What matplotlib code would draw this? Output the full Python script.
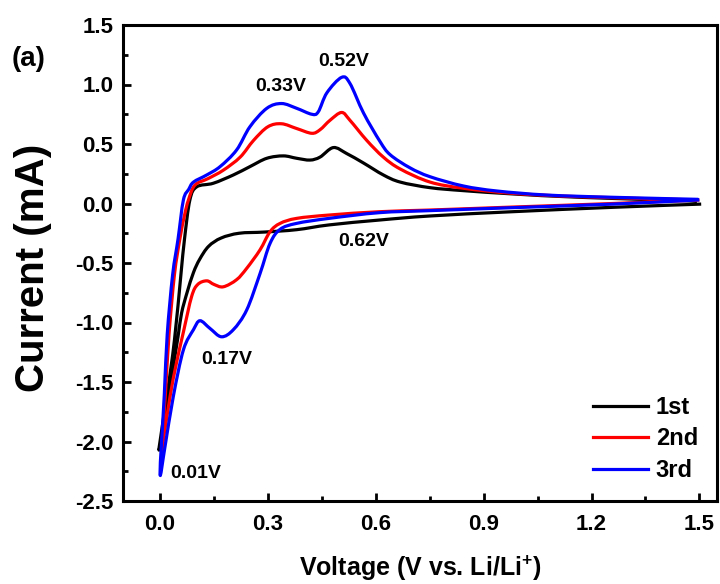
import matplotlib
matplotlib.use("Agg")
import matplotlib.pyplot as plt
from matplotlib.ticker import MultipleLocator
from matplotlib.path import Path
from matplotlib.patches import PathPatch
from matplotlib.lines import Line2D
import numpy as np

plt.rcParams['font.family'] = ['Liberation Sans', 'DejaVu Sans']
plt.rcParams['font.weight'] = 'bold'
plt.rcParams['mathtext.fontset'] = 'custom'
plt.rcParams['mathtext.rm'] = 'Liberation Sans:bold'
plt.rcParams['mathtext.bf'] = 'Liberation Sans:bold'
plt.rcParams['mathtext.default'] = 'bf'

# ---- data: cycle 1 (black) ----
c1_cat_v = [1.505, 1.26, 0.98, 0.75, 0.61, 0.47, 0.38, 0.29, 0.22, 0.17, 0.135, 0.11, 0.093, 0.075, 0.06, 0.05, 0.03, 0.01, -0.003]
c1_cat_i = [-0.005, -0.032, -0.069, -0.105, -0.139, -0.18, -0.22, -0.24, -0.25, -0.29, -0.36, -0.47, -0.58, -0.75, -0.92, -1.12, -1.5, -1.9, -2.06]
c1_an_v = [-0.003, 0.02, 0.04, 0.058, 0.068, 0.083, 0.102, 0.148, 0.204, 0.25, 0.297, 0.343, 0.38, 0.417, 0.445, 0.482, 0.519, 0.566, 0.621, 0.668, 0.751, 0.844, 0.983, 1.168, 1.493]
c1_an_i = [-2.06, -1.6, -1.15, -0.6, -0.3, 0.03, 0.14, 0.17, 0.24, 0.31, 0.38, 0.40, 0.38, 0.365, 0.39, 0.47, 0.42, 0.34, 0.24, 0.18, 0.133, 0.108, 0.08, 0.052, 0.02]

# ---- cycle 2 (red) ----
c2_cat_v = [1.50, 1.26, 0.98, 0.75, 0.61, 0.47, 0.38, 0.334, 0.306, 0.278, 0.241, 0.213, 0.176, 0.15, 0.13, 0.105, 0.088, 0.065, 0.045, 0.028, 0.009, 0.005]
c2_cat_i = [0.03, 0.0, -0.03, -0.055, -0.069, -0.097, -0.125, -0.167, -0.237, -0.39, -0.545, -0.64, -0.70, -0.68, -0.65, -0.68, -0.78, -1.08, -1.35, -1.62, -1.99, -2.05]
c2_an_v = [0.005, 0.015, 0.025, 0.04, 0.055, 0.068, 0.079, 0.097, 0.134, 0.176, 0.223, 0.26, 0.30, 0.338, 0.38, 0.422, 0.445, 0.473, 0.505, 0.528, 0.575, 0.621, 0.668, 0.751, 0.844, 0.983, 1.168, 1.493]
c2_an_i = [-2.05, -1.6, -1.1, -0.6, -0.3, -0.1, 0.03, 0.155, 0.21, 0.28, 0.39, 0.53, 0.645, 0.67, 0.63, 0.59, 0.62, 0.70, 0.765, 0.70, 0.53, 0.39, 0.29, 0.18, 0.128, 0.085, 0.057, 0.03]

# ---- cycle 3 (blue) ----
c3_cat_v = [1.50, 1.26, 0.98, 0.75, 0.61, 0.47, 0.38, 0.334, 0.306, 0.278, 0.241, 0.204, 0.171, 0.139, 0.111, 0.093, 0.065, 0.037, 0.014, 0.0]
c3_cat_i = [0.03, -0.005, -0.035, -0.06, -0.077, -0.125, -0.167, -0.217, -0.335, -0.59, -0.895, -1.06, -1.12, -1.05, -0.985, -1.06, -1.23, -1.62, -2.04, -2.27]
c3_an_v = [0.0, 0.012, 0.02, 0.035, 0.05, 0.065, 0.08, 0.093, 0.13, 0.167, 0.213, 0.25, 0.297, 0.338, 0.38, 0.422, 0.44, 0.464, 0.505, 0.528, 0.566, 0.612, 0.64, 0.695, 0.751, 0.844, 0.937, 1.076, 1.261, 1.497]
c3_an_i = [-2.27, -1.6, -1.1, -0.6, -0.3, 0.03, 0.12, 0.18, 0.24, 0.31, 0.45, 0.645, 0.80, 0.84, 0.80, 0.75, 0.77, 0.93, 1.06, 1.01, 0.76, 0.52, 0.41, 0.30, 0.225, 0.147, 0.105, 0.071, 0.052, 0.035]

labels = ['1st', '2nd', '3rd']
colors = ['#000000', '#ff0000', '#0000ff']

peak_labels = ['0.52V', '0.33V', '0.62V', '0.17V', '0.01V']
peak_x = [0.512, 0.335, 0.566, 0.185, 0.099]
peak_y = [1.19, 0.98, -0.32, -1.315, -2.265]


def smooth_path(xs, ys):
    """Catmull-Rom style cubic Bezier path through the read points (drawing only)."""
    p = np.column_stack([xs, ys]).astype(float)
    n = len(p)
    verts = [p[0]]
    codes = [Path.MOVETO]
    for k in range(n - 1):
        p0 = p[k - 1] if k > 0 else p[k]
        p1 = p[k]
        p2 = p[k + 1]
        p3 = p[k + 2] if k + 2 < n else p[k + 1]
        c1 = p1 + (p2 - p0) / 6.0
        c2 = p2 - (p3 - p1) / 6.0
        verts += [c1, c2, p2]
        codes += [Path.CURVE4] * 3
    return Path(verts, codes)


fig = plt.figure(figsize=(7.2, 5.84), dpi=100)
ax = fig.add_axes([123/720, 1-501/584, (717-123)/720, (501-25)/584])

cycles = [(c1_cat_v, c1_cat_i, c1_an_v, c1_an_i),
          (c2_cat_v, c2_cat_i, c2_an_v, c2_an_i),
          (c3_cat_v, c3_cat_i, c3_an_v, c3_an_i)]
handles = []
for (cv, ci, av, ai), lab, col in zip(cycles, labels, colors):
    v = list(cv) + list(av[1:])
    i = list(ci) + list(ai[1:])
    patch = PathPatch(smooth_path(v, i), facecolor='none', edgecolor=col,
                      lw=2.3, joinstyle='round', capstyle='butt')
    ax.add_patch(patch)
    handles.append(Line2D([], [], color=col, lw=2.3, label=lab))

for t, x, y in zip(peak_labels, peak_x, peak_y):
    ax.text(x, y, t, ha='center', va='center', fontsize=14, fontweight='bold')

ax.set_xlim(-0.103, 1.549)
ax.set_ylim(-2.5, 1.5)
ax.xaxis.set_minor_locator(MultipleLocator(0.15))
ax.yaxis.set_minor_locator(MultipleLocator(0.25))
ax.set_xticks([0.0, 0.3, 0.6, 0.9, 1.2, 1.5])
ax.set_xticklabels(['0.0', '0.3', '0.6', '0.9', '1.2', '1.5'])
ax.set_yticks([-2.5, -2.0, -1.5, -1.0, -0.5, 0.0, 0.5, 1.0, 1.5])
ax.set_yticklabels(['-2.5', '-2.0', '-1.5', '-1.0', '-0.5', '0.0', '0.5', '1.0', '1.5'])
ax.tick_params(which='both', direction='in', top=False, right=False, width=2.0)
ax.tick_params(which='major', length=6, labelsize=16)
ax.tick_params(axis='x', which='major', pad=9)
ax.tick_params(axis='y', which='major', pad=7)
ax.tick_params(which='minor', length=3.5)
for s in ax.spines.values():
    s.set_linewidth(2.2)

ax.set_xlabel('Voltage (V vs. Li/Li$^{+}$)', fontsize=18, fontweight='bold')
ax.set_ylabel('Current (mA)', fontsize=29, fontweight='bold')
ax.xaxis.set_label_coords(0.5, -0.111)
ax.yaxis.set_label_coords(-0.12, 0.49)

fig.text(29/720, 1-59/584, '(a)', fontsize=20, fontweight='bold', ha='center', va='center')

leg = ax.legend(handles=handles, loc='lower right', bbox_to_anchor=(0.968, 0.04), frameon=False,
                fontsize=17, handlelength=2.33, handletextpad=0.34, labelspacing=0.36,
                borderpad=0, borderaxespad=0)

fig.savefig('out.png', dpi=100)
